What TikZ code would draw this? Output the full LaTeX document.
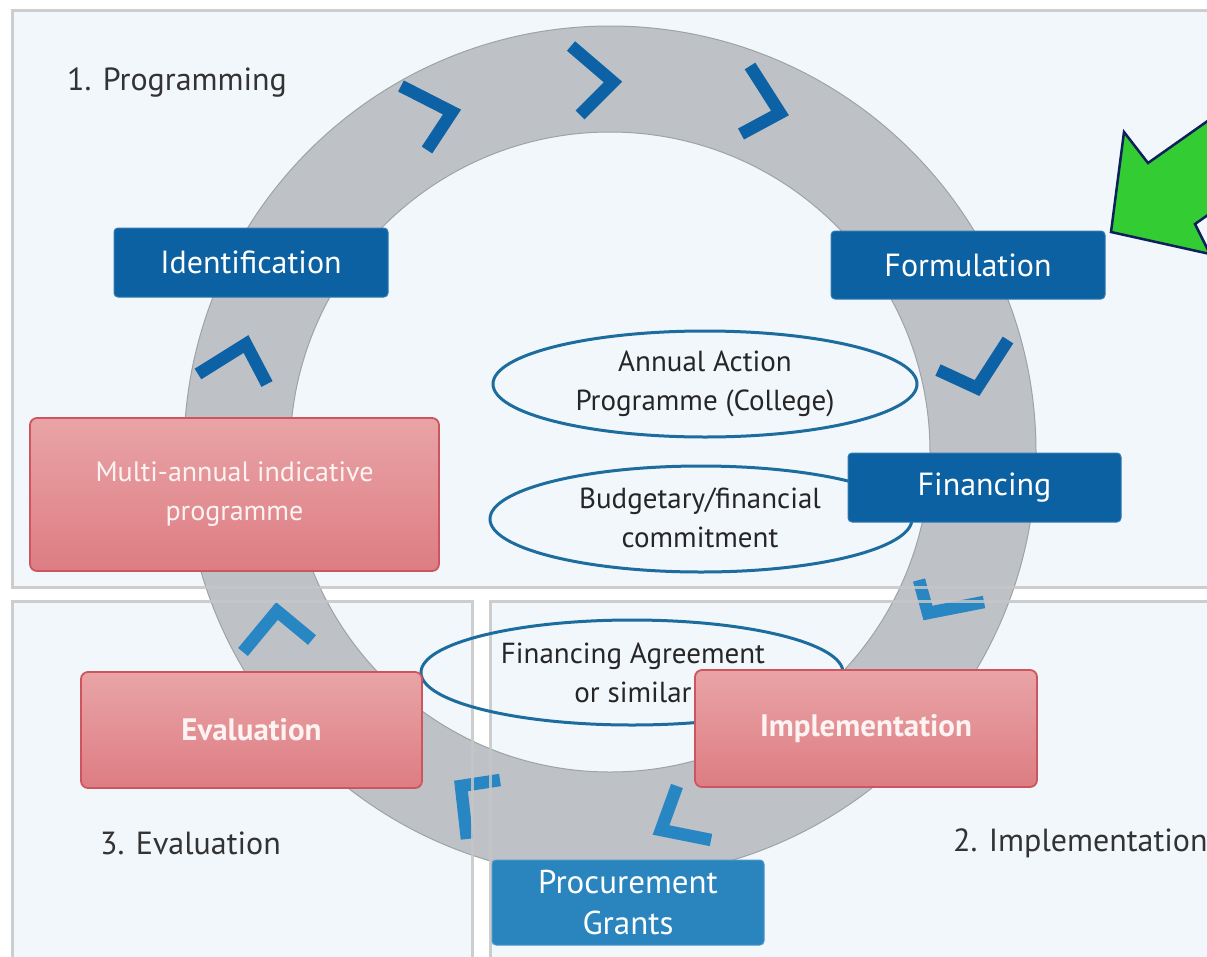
\documentclass[tikz,border=0pt]{standalone}
\usepackage{fontspec}
\setmainfont{PT Sans}
\usetikzlibrary{shapes.geometric}
\definecolor{panelfill}{HTML}{F2F7FC}
\definecolor{panelline}{HTML}{C6C6C6}
\definecolor{ringgray}{HTML}{BEC2C7}
\definecolor{ringedge}{HTML}{9EA3A8}
\definecolor{boxblue}{HTML}{0B61A1}
\definecolor{boxblue2}{HTML}{2A85BF}
\definecolor{chevdark}{HTML}{0C62A4}
\definecolor{chevlight}{HTML}{2886C3}
\definecolor{pinktop}{HTML}{E9A4A6}
\definecolor{pinkbot}{HTML}{DD7D83}
\definecolor{pinkedge}{HTML}{CC5560}
\definecolor{pinktext}{HTML}{FDF3F3}
\definecolor{ellblue}{HTML}{1D6C9E}
\definecolor{labeltext}{HTML}{333333}
\definecolor{arrowgreen}{HTML}{33CC33}
\definecolor{arrowedge}{HTML}{0F1F5C}
\begin{document}
\begin{tikzpicture}[x=1pt,y=-1pt,
  panel/.style={fill=panelfill},
  panelborder/.style={draw=panelline,line width=3pt,opacity=0.85},
  chevd/.style={draw=chevdark,line width=12.5pt,line join=miter,line cap=butt},
  chevl/.style={draw=chevlight,line width=12.5pt,line join=miter,line cap=butt},
  bluebox/.style={rectangle,rounded corners=4pt,fill=boxblue,draw=boxblue!85!white,line width=1pt,
    text=white,inner sep=0pt,font=\fontsize{32}{38}\selectfont},
  bluebox2/.style={bluebox,fill=boxblue2,draw=boxblue2!85!white,align=center,font=\fontsize{33}{41}\selectfont},
  pinkbox/.style={rectangle,rounded corners=7pt,top color=pinktop,bottom color=pinkbot,draw=pinkedge,
    line width=1.8pt,text=pinktext,inner sep=0pt,align=center},
  ell/.style={ellipse,draw=ellblue,line width=3pt,inner sep=0pt},
  elltext/.style={align=center,text=black!85,font=\fontsize{29}{39}\selectfont,inner sep=0pt},
  lbl/.style={text=labeltext,font=\fontsize{32}{36}\selectfont,inner sep=0pt}
]
\useasboundingbox (0,0) rectangle (1207,956);
\clip (0,0) rectangle (1207,956);
\fill[white] (0,0) rectangle (1207,956);
% panels
\fill[panel] (12,10) rectangle (1230,587);
\fill[panel] (12,601) rectangle (472,980);
\fill[panel] (490,601) rectangle (1230,980);
% ring
\fill[ringgray,even odd rule] (610,452) circle[radius=426] (610,452) circle[radius=320];
\draw[ringedge,line width=1pt] (610,452) circle[radius=426] (610,452) circle[radius=320];
% chevrons
\draw[chevd] (401,86) -- (452,112) -- (427,150);
\draw[chevd] (571,46) -- (613,82) -- (580,115);
\draw[chevd] (750,66) -- (780,113) -- (741,134);
\draw[chevd] (938,370) -- (977,388) -- (1008,340);
\draw[chevl] (919,580) -- (928,613) -- (984,602);
\draw[chevl] (677,786) -- (661,830) -- (711,840);
\draw[chevl] (500,780) -- (461,786) -- (467,839);
\draw[chevl] (243,652) -- (277,611) -- (312,640);
\draw[chevd] (198,374) -- (246,344) -- (267,384);
% panel borders on top
\draw[panelborder] (1230,10) -- (12,10) -- (12,587) -- (1230,587);
\draw[panelborder] (12,980) -- (12,601) -- (472,601) -- (472,980);
\draw[panelborder] (490,980) -- (490,601) -- (1230,601);
% ellipses
\node[ell,minimum width=424pt,minimum height=106pt] (e1) at (705,384) {};
\node[ell,minimum width=422pt,minimum height=106pt] (e2) at (701,519) {};
\node[ell,minimum width=422pt,minimum height=105pt] (e3) at (632,672.5) {};
\node[elltext] (t1) at (705,384) {Annual Action\\Programme (College)};
\node[elltext] (t2) at (700,518) {Budgetary/financial\\commitment};
\node[elltext] (t3) at (633,673) {Financing Agreement\\or similar};
% boxes
\node[bluebox,minimum width=274pt,minimum height=69pt] (ident) at (251,262.5) {Identification};
\node[bluebox,minimum width=274pt,minimum height=68pt] (form) at (968,265) {Formulation};
\node[bluebox,minimum width=273pt,minimum height=69pt] (fin) at (984.5,487.5) {Financing};
\node[bluebox2,minimum width=272pt,minimum height=85pt] (proc) at (628,902.5) {Procurement\\Grants};
\node[pinkbox,minimum width=409pt,minimum height=153pt,font=\fontsize{28}{39}\selectfont] (multi) at (234.5,494.5) {Multi-annual indicative\\programme};
\node[pinkbox,minimum width=341pt,minimum height=116pt,font=\bfseries\fontsize{31}{36}\selectfont] (evalbox) at (251.5,730) {Evaluation};
\node[pinkbox,minimum width=342pt,minimum height=117pt,font=\bfseries\fontsize{31}{36}\selectfont] (impl) at (866,728.5) {Implementation};
% labels
\node[lbl,anchor=west] (lprog) at (67,82) {1. Programming};
\node[lbl,anchor=west] (leval) at (100,843) {3. Evaluation};
\node[lbl,anchor=west] (limpl) at (953,843) {2. Implementation};
% green arrow
\draw[fill=arrowgreen,draw=arrowedge,line width=2.5pt,line join=miter]
  (1111,232) -- (1124,132) -- (1148,163) -- (1270,77) -- (1318,138) -- (1195,224) -- (1210,254) -- cycle;
\end{tikzpicture}
\end{document}
